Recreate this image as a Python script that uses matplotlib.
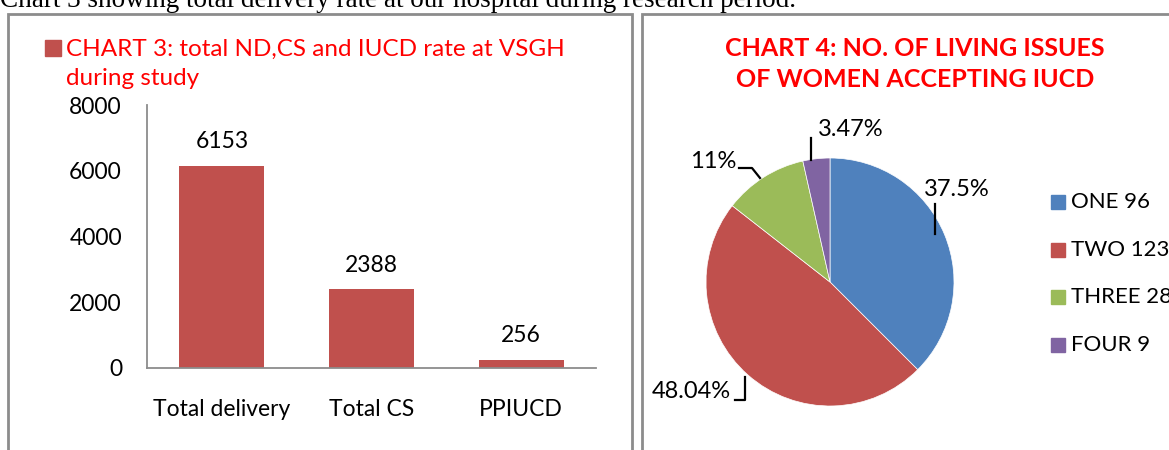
import matplotlib.pyplot as plt
from matplotlib.patches import Rectangle

# bar chart data
bar_cats = ['Total delivery', 'Total CS', 'PPIUCD']
bar_vals = [6153, 2388, 256]
bar_title = 'CHART 3: total ND,CS and IUCD rate at VSGH\nduring study'

# pie chart data
pie_names = ['ONE', 'TWO', 'THREE', 'FOUR']
pie_vals = [96, 123, 28, 9]
pie_pct_labels = ['37.5%', '48.04%', '11%', '3.47%']
pie_colors = ['#4F81BD', '#C0504D', '#9BBB59', '#8064A2']
pie_title = 'CHART 4: NO. OF LIVING ISSUES\nOF WOMEN ACCEPTING IUCD'

caption = 'Chart 3 showing total delivery rate at our hospital during research period.'

W, H = 1169, 450
FONT = 'Lato'
plt.rcParams['font.family'] = [FONT, 'DejaVu Sans']

fig = plt.figure(figsize=(W / 100, H / 100), dpi=100)


def fx(px):
    return px / W


def fy(py):
    return 1 - py / H


# caption, cut off at the top of the image
fig.text(fx(0), fy(7), caption, family='Liberation Serif', fontsize=19.5,
         va='baseline', ha='left', color='black')

# panel borders
for x0, x1 in [(8, 632), (642, 1175)]:
    fig.patches.append(Rectangle((fx(x0), fy(460)), fx(x1 - x0), fy(14) - fy(460),
                                 transform=fig.transFigure, fill=False,
                                 edgecolor='#8c8c8c', linewidth=2))

# ---- bar chart ----
ax = fig.add_axes([fx(147), fy(368), fx(596 - 147), fy(105) - fy(368)])
x = range(len(bar_cats))
ax.bar(x, bar_vals, width=0.57, color='#C0504D')
for i, v in zip(x, bar_vals):
    ax.text(i, v + 420, str(v), ha='center', va='bottom', fontsize=16.5)
ax.set_xlim(-0.5, 2.5)
ax.set_ylim(0, 8000)
ax.set_yticks([0, 2000, 4000, 6000, 8000])
ax.set_xticks(list(x))
ax.set_xticklabels(bar_cats)
ax.tick_params(axis='both', length=0, labelsize=16.5)
ax.tick_params(axis='y', pad=18)
ax.tick_params(axis='x', pad=22)
for s in ['top', 'right']:
    ax.spines[s].set_visible(False)
for s in ['left', 'bottom']:
    ax.spines[s].set_color('#8c8c8c')
    ax.spines[s].set_linewidth(1.3)

fig.patches.append(Rectangle((fx(45), fy(56)), fx(16), fy(40) - fy(56),
                             transform=fig.transFigure, color='#C0504D'))
fig.text(fx(66), fy(64), bar_title, color='#FF0000', fontsize=17.5,
         va='center', ha='left', linespacing=1.5)

# ---- pie chart ----
cx, cy, r = 830, 282, 124
pax = fig.add_axes([fx(cx - r), fy(cy + r), fx(2 * r), fy(cy - r) - fy(cy + r)])
pax.pie(pie_vals, colors=pie_colors, startangle=90, counterclock=False,
        wedgeprops=dict(linewidth=0.5, edgecolor='white'))
pax.set_xlim(-1, 1)
pax.set_ylim(-1, 1)
pax.set_aspect('auto')
pax.axis('off')


def pc(px, py):
    return ((px - cx) / r, (cy - py) / r)


# leader lines and labels (pixel layout)
leaders = [
    [(935, 204), (935, 234)],
    [(735, 400), (745, 400), (745, 377)],
    [(739, 168), (752, 168), (760, 178)],
    [(811, 138), (811, 160)],
]
label_pos = [((924, 190), 'left', 'center'),
             ((731, 392), 'right', 'center'),
             ((736, 162), 'right', 'center'),
             ((818, 130), 'left', 'center')]
for pts, (pos, ha, va), lab in zip(leaders, label_pos, pie_pct_labels):
    xs, ys = zip(*[pc(*p) for p in pts])
    pax.plot(xs, ys, color='black', lw=1.6, clip_on=False)
    tx, ty = pc(*pos)
    pax.text(tx, ty, lab, ha=ha, va=va, fontsize=17, clip_on=False)

fig.text(fx(915), fy(64), pie_title, color='#FF0000', fontsize=18,
         fontweight='bold', ha='center', va='center', linespacing=1.45)

# legend
for i, (n, v, c) in enumerate(zip(pie_names, pie_vals, pie_colors)):
    yy = 202 + i * 47.7
    fig.patches.append(Rectangle((fx(1051), fy(yy + 7)), fx(14), fy(yy - 7) - fy(yy + 7),
                                 transform=fig.transFigure, color=c))
    fig.text(fx(1071), fy(yy), f'{n} {v}', fontsize=16, va='center', ha='left')

fig.savefig('out.png', dpi=100)
